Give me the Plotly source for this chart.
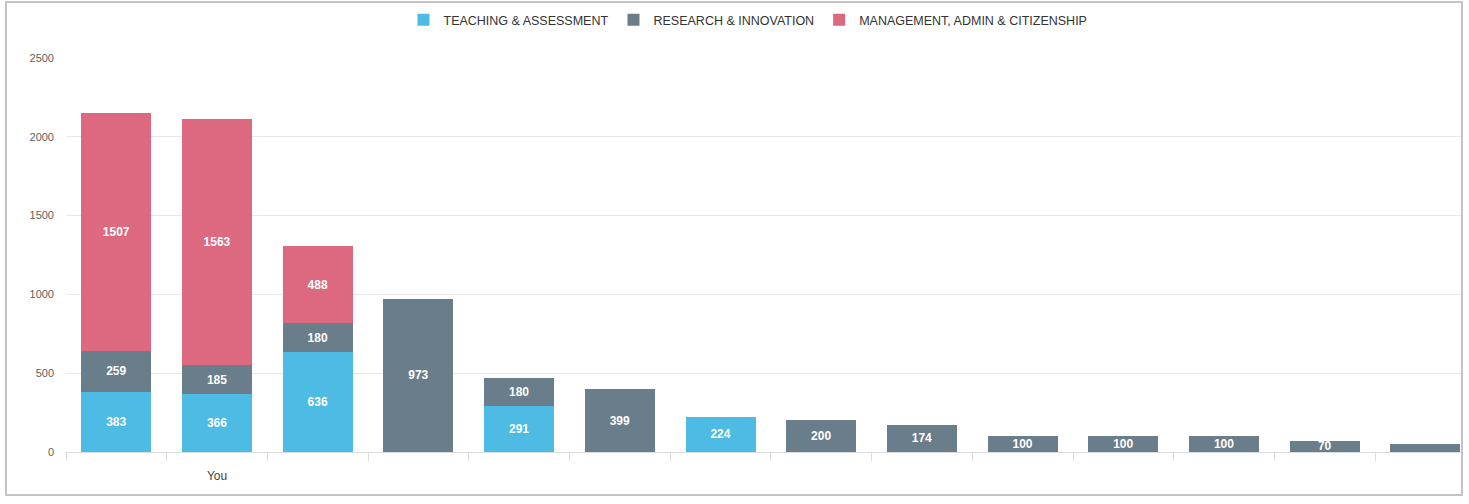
import plotly.graph_objects as go

categories = ["c1", "You", "c3", "c4", "c5", "c6", "c7", "c8", "c9", "c10", "c11", "c12", "c13", "c14"]
tick_labels = ["", "You", "", "", "", "", "", "", "", "", "", "", "", ""]

teaching = [383, 366, 636, None, 291, None, 224, None, None, None, None, None, None, None]
research = [259, 185, 180, 973, 180, 399, None, 200, 174, 100, 100, 100, 70, 50]
management = [1507, 1563, 488, None, None, None, None, None, None, None, None, None, None, None]

series_names = ["TEACHING & ASSESSMENT", "RESEARCH & INNOVATION", "MANAGEMENT, ADMIN & CITIZENSHIP"]
colors = ["#4dbbe3", "#6a7d8a", "#dc6980"]


def labels(vals, hide_last=False):
    out = ["" if v is None else str(v) for v in vals]
    if hide_last:
        out[-1] = ""
    return out


fig = go.Figure()
for name, vals, col, hide in zip(series_names, [teaching, research, management], colors, [False, True, False]):
    fig.add_trace(go.Bar(
        x=categories, y=vals, name=name,
        marker=dict(color=col, line=dict(width=0)),
        text=labels(vals, hide), textposition="inside", insidetextanchor="middle", textangle=0,
        textfont=dict(color="white", size=12, family="Liberation Sans", weight="bold"),
        hoverinfo="skip",
    ))

L, T, R, B = 66, 58, 8, 52
W, H = 1469, 504
pw, ph = W - L - R, H - T - B

fig.update_layout(
    barmode="stack",
    bargap=0.305,
    width=W, height=H,
    margin=dict(l=L, r=R, t=T, b=B, pad=0, autoexpand=False),
    paper_bgcolor="white", plot_bgcolor="white",
    font=dict(family="Liberation Sans", color="#666666", size=11),
    uniformtext=dict(minsize=12, mode="show"),
    legend=dict(orientation="h", x=(748 - L) / pw, xanchor="center", y=(H - B - 20) / ph, yanchor="middle",
                font=dict(size=12.5, color="#333333"), traceorder="normal", itemwidth=30,
                bgcolor="rgba(0,0,0,0)"),
    xaxis=dict(type="category", categoryorder="array", categoryarray=categories,
               tickvals=categories, ticktext=tick_labels, automargin=False,
               range=[-0.5, -0.5 + pw / 100.7],
               tickson="boundaries", ticks="outside", ticklen=8, tickcolor="#dcdcdc",
               showline=True, linecolor="#dcdcdc", linewidth=1, showgrid=False,
               ticklabelstandoff=13,
               tickfont=dict(size=12, color="#444444"), fixedrange=True),
    yaxis=dict(range=[0, 2500], tickvals=[0, 500, 1000, 1500, 2000, 2500], automargin=False,
               showgrid=True, gridcolor="#e8e8e8", zeroline=False, showline=False,
               ticks="", tickfont=dict(size=11, color="#606060"), ticklabelstandoff=11, fixedrange=True),
    shapes=[dict(type="rect", xref="paper", yref="paper",
                 x0=(6 - L) / pw, x1=(1462 - L) / pw,
                 y0=(H - B - 495) / ph, y1=(H - B - 2) / ph,
                 line=dict(color="#c4c4c4", width=2), fillcolor="rgba(0,0,0,0)", layer="above")],
    showlegend=True,
)

fig.write_html("out.html", config={"displayModeBar": False},
               post_script="document.body.style.margin='0';document.body.style.overflow='hidden';")
